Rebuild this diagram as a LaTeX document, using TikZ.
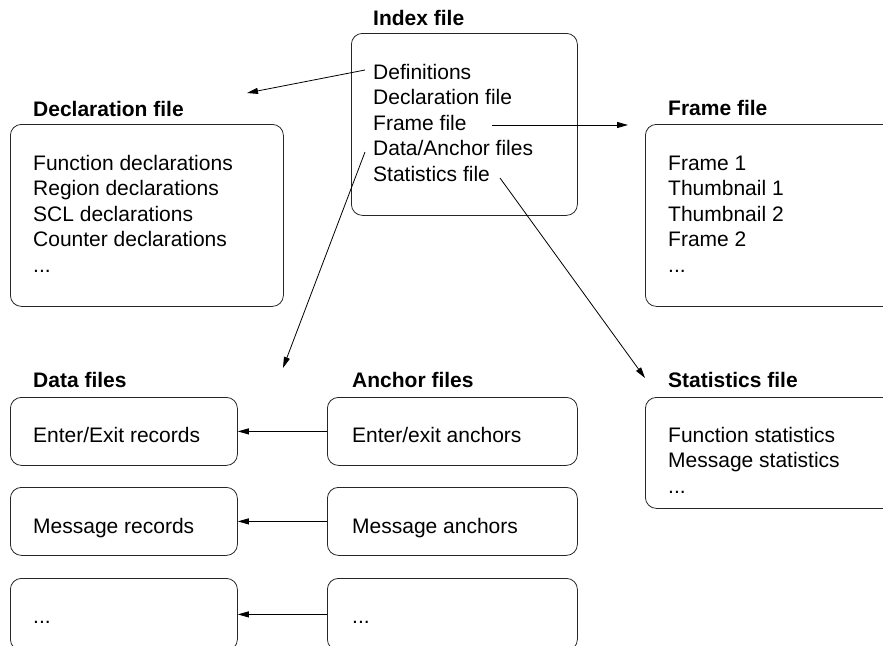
\documentclass[tikz,border=0pt]{standalone}
\usepackage{fontspec}
\setmainfont{Liberation Sans}
\usetikzlibrary{arrows.meta}
\begin{document}
\begin{tikzpicture}[x=1pt,y=-1pt,
  box/.style={draw=black!85, line width=0.8pt, rounded corners=11pt, rectangle, anchor=north west, inner sep=0pt},
  txt/.style={anchor=base west, inner sep=0pt, font=\fontsize{21}{25.5}\selectfont},
  ttl/.style={txt, font=\fontsize{21}{25.5}\selectfont\bfseries},
  conn/.style={draw=black, line width=0.8pt, -{Triangle[length=11pt,width=6pt]}}
]
\useasboundingbox (0,0) rectangle (883,645);
\clip (0,0) rectangle (883,645);
% boxes
\node[box, minimum width=226pt, minimum height=182pt] (idx) at (351,33) {};
\node[box, minimum width=273pt, minimum height=182pt] (decl) at (10,124) {};
\node[box, minimum width=300pt, minimum height=182pt] (frm) at (645,124) {};
\node[box, minimum width=300pt, minimum height=111pt] (stat) at (645,397) {};
\node[box, minimum width=227pt, minimum height=68pt] (d1) at (10,397) {};
\node[box, minimum width=227pt, minimum height=68pt] (d2) at (10,487) {};
\node[box, minimum width=227pt, minimum height=72pt] (d3) at (10,578) {};
\node[box, minimum width=250pt, minimum height=68pt] (a1) at (327,397) {};
\node[box, minimum width=250pt, minimum height=68pt] (a2) at (327,487) {};
\node[box, minimum width=250pt, minimum height=72pt] (a3) at (327,578) {};
% titles
\node[ttl] (tidx) at (373,25) {Index file};
\node[ttl] (tdecl) at (33,116) {Declaration file};
\node[ttl] (tfrm) at (668,115) {Frame file};
\node[ttl] (tdat) at (33,387) {Data files};
\node[ttl] (tanc) at (352,387) {Anchor files};
\node[ttl] (tstat) at (668,387) {Statistics file};
% index contents
\node[txt] (i1) at (373,79) {Definitions};
\node[txt] (i2) at (373,104.5) {Declaration file};
\node[txt] (i3) at (373,130) {Frame file};
\node[txt] (i4) at (373,155.5) {Data/Anchor files};
\node[txt] (i5) at (373,181) {Statistics file};
% declaration contents
\node[txt] (c1) at (33,170) {Function declarations};
\node[txt] (c2) at (33,195.5) {Region declarations};
\node[txt] (c3) at (33,221) {SCL declarations};
\node[txt] (c4) at (33,246.5) {Counter declarations};
\node[txt] (c5) at (33,272) {...};
% frame contents
\node[txt] (f1) at (668,170) {Frame 1};
\node[txt] (f2) at (668,195.5) {Thumbnail 1};
\node[txt] (f3) at (668,221) {Thumbnail 2};
\node[txt] (f4) at (668,246.5) {Frame 2};
\node[txt] (f5) at (668,272) {...};
% statistics contents
\node[txt] (s1) at (668,442) {Function statistics};
\node[txt] (s2) at (668,467.5) {Message statistics};
\node[txt] (s3) at (668,493) {...};
% data / anchor contents
\node[txt] (dt1) at (33,442) {Enter/Exit records};
\node[txt] (dt2) at (33,533) {Message records};
\node[txt] (dt3) at (33,623) {...};
\node[txt] (at1) at (352,442) {Enter/exit anchors};
\node[txt] (at2) at (352,533) {Message anchors};
\node[txt] (at3) at (352,623) {...};
% connector ends
\coordinate (defS) at (365,70);
\coordinate (defE) at (247,93);
\coordinate (frmS) at (492,125);
\coordinate (frmE) at (628,125);
\coordinate (datS) at (365,152);
\coordinate (datE) at (283,368);
\coordinate (stS) at (500,178);
\coordinate (stE) at (645,378);
\draw[conn] (defS) -- (defE);
\draw[conn] (frmS) -- (frmE);
\draw[conn] (datS) -- (datE);
\draw[conn] (stS) -- (stE);
\draw[conn] (a1.west) -- (d1.east);
\draw[conn] (a2.west) -- (d2.east);
\draw[conn] (a3.west) -- (d3.east);
\end{tikzpicture}
\end{document}
